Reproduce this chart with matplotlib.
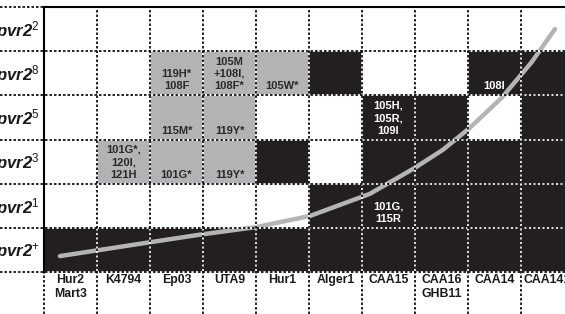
import numpy as np
import matplotlib.pyplot as plt
from matplotlib.patches import Rectangle

strains = ["Hur2\nMart3", "K4794", "Ep03", "UTA9", "Hur1", "Alger1",
           "CAA15", "CAA16\nGHB11", "CAA14", "CAA141"]
alleles = ["2", "8", "5", "3", "1", "+"]  # top to bottom

# B = black, G = grey, W = white ; rows top to bottom
cells = [
    "WWWWWWWWWW",
    "WWGGGBWWBB",
    "WWGGWWBBWB",
    "WGGGBWBBBB",
    "WWWWWBBBBB",
    "BBBBBBBBBB",
]
mutations = {
    (1, 2): "119H*\n108F",
    (1, 3): "105M\n+108I,\n108F*",
    (1, 4): "105W*",
    (1, 8): "108I",
    (2, 2): "115M*",
    (2, 3): "119Y*",
    (2, 6): "105H,\n105R,\n109I",
    (3, 1): "101G*,\n120I,\n121H",
    (3, 2): "101G*",
    (3, 3): "119Y*",
    (4, 6): "101G,\n115R",
}

# grey curve (column units, row units from bottom)
curve_x = [0.30, 1.6, 2.91, 4.02, 5.02, 6.15, 7.0, 7.53, 8.04, 8.64, 9.2, 9.64]
curve_y = [0.36, 0.60, 0.84, 1.02, 1.27, 1.77, 2.36, 2.77, 3.27, 3.95, 4.75, 5.50]

colors = {"B": "#231f20", "G": "#b3b3b5", "W": "white"}
ncol, nrow = len(strains), len(alleles)

plt.rcParams["mathtext.fontset"] = "custom"
plt.rcParams["mathtext.it"] = "Liberation Sans:italic"
plt.rcParams["mathtext.bfit"] = "Liberation Sans:italic:bold"
plt.rcParams["mathtext.rm"] = "Liberation Sans"

fig = plt.figure(figsize=(5.65, 3.14), dpi=100)
W, H = 565.0, 314.0
ax = fig.add_axes([44 / W, (H - 272) / H, 530 / W, 265 / H])
ax.set_xlim(0, ncol)
ax.set_ylim(0, nrow)
ax.axis("off")

for r, row in enumerate(cells):
    y0 = nrow - 1 - r
    for c, k in enumerate(row):
        ax.add_patch(Rectangle((c, y0), 1, 1, color=colors[k], lw=0, zorder=1))
        if (r, c) in mutations:
            tc = "white" if k == "B" else "#2a2a2a"
            ax.text(c + 0.5, y0 + 0.09, mutations[(r, c)], ha="center", va="bottom",
                    fontsize=8, fontweight="bold", color=tc, linespacing=1.3,
                    family="Liberation Sans", zorder=2)

ax.plot(curve_x, curve_y, color="#b4b4b4", lw=3.2, solid_capstyle="round", zorder=3)

# dotted grid: white under, black dashes on top
dash = (0, (1.5, 1.2))
lab_left = -44 / 53.0
for y in range(nrow + 1):
    ax.plot([lab_left, ncol], [y, y], color="white", lw=1.2, zorder=4, clip_on=False)
    ax.plot([lab_left, ncol], [y, y], color="black", lw=1.2, ls=dash, zorder=5, clip_on=False)
for x in range(1, ncol + 1):
    ax.plot([x, x], [-42 / 44.0, nrow], color="white", lw=1.2, zorder=4, clip_on=False)
    ax.plot([x, x], [-42 / 44.0, nrow], color="black", lw=1.2, ls=dash, zorder=5, clip_on=False)
ax.plot([0, 0], [-42 / 44.0, 0], color="black", lw=1.2, ls=dash, zorder=5, clip_on=False)
ax.plot([0, ncol], [nrow, nrow], color="black", lw=1.5, zorder=6, clip_on=False)
ax.plot([0, 0], [0, nrow], color="black", lw=1.5, zorder=6, clip_on=False)

for c, s in enumerate(strains):
    ax.text(c + 0.5, -0.04, s, ha="center", va="top", fontsize=8.8, fontweight="bold",
            family="Liberation Sans", color="#1a1a1a", linespacing=1.25, clip_on=False)

for r, a in enumerate(alleles):
    ax.text(-4 / 53.0, nrow - 1 - r + 0.47, r"$\mathbfit{pvr2}^{\mathit{" + a + "}}$",
            ha="right", va="center", fontsize=12, color="#1a1a1a", clip_on=False)

fig.savefig("out.png", dpi=100)
